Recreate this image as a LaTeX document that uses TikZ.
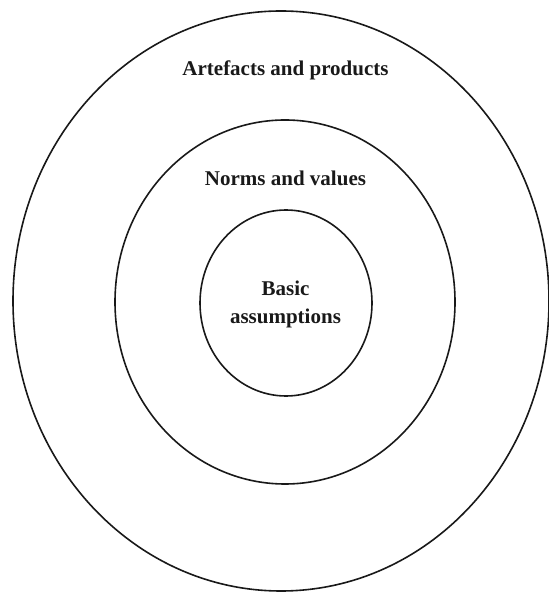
\documentclass[tikz,border=0pt]{standalone}
\usepackage{fontspec}
\setmainfont{Liberation Serif}
\usetikzlibrary{shapes.geometric}
\begin{document}
\begin{tikzpicture}[x=1pt,y=1pt,
  ring/.style={draw=black!90, line width=1.6pt, ellipse, inner sep=0pt, fill=none},
  lbl/.style={font=\fontsize{21}{28}\selectfont\bfseries, text=black!90, inner sep=0pt, align=center}]
  \useasboundingbox (0,0) rectangle (549,592);
  % three nested layers
  \node[ring, minimum width=536pt, minimum height=580pt] (outer) at (281,291) {};
  \node[ring, minimum width=340pt, minimum height=364pt] (middle) at (285,290) {};
  \node[ring, minimum width=172pt, minimum height=186pt] (inner) at (286,289) {};
  % layer labels
  \node[lbl, anchor=base] (artefacts) at (285.5,516) {Artefacts and products};
  \node[lbl, anchor=base] (norms) at (285.5,406) {Norms and values};
  \node[lbl] (basic) at (285.5,288) {Basic\\assumptions};
\end{tikzpicture}
\end{document}
